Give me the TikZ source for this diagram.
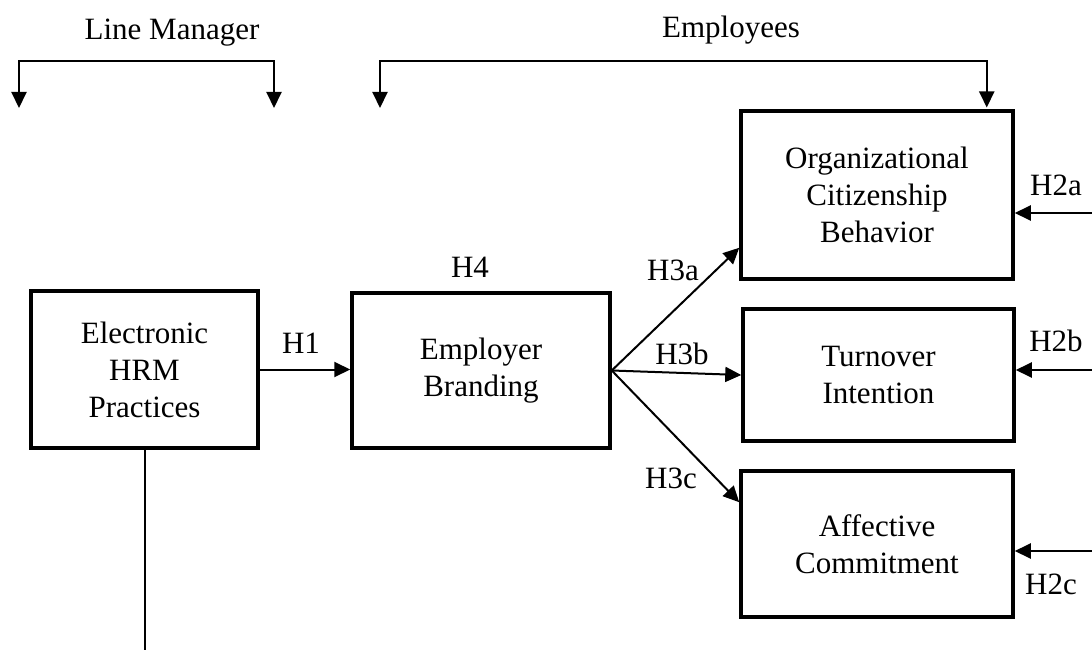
\documentclass[tikz,border=0pt]{standalone}
\usepackage{fontspec}
\setmainfont{Liberation Serif}
\usetikzlibrary{arrows.meta,calc}

\begin{document}
\begin{tikzpicture}[x=1pt,y=-1pt,
  every node/.style={font=\fontsize{31}{37}\selectfont, inner sep=0pt},
  varbox/.style={draw, line width=3.5pt, align=center},
  link/.style={line width=2pt, -{Triangle[length=16pt,width=15pt]}},
  twolink/.style={line width=2pt, {Triangle[length=16pt,width=15pt]}-{Triangle[length=16pt,width=15pt]}},
  hlabel/.style={}]
\useasboundingbox (0,0) rectangle (1092,650);

% constructs
\node[varbox, minimum width=227pt, minimum height=157pt] (ehrm) at (144.5,369.5) {Electronic\\HRM\\Practices};
\node[varbox, minimum width=258pt, minimum height=155pt] (eb) at (481,370.5) {Employer\\Branding};
\node[varbox, minimum width=272pt, minimum height=168pt] (ocb) at (877,195) {Organizational\\Citizenship\\Behavior};
\node[varbox, minimum width=271pt, minimum height=132pt] (ti) at (878.5,375) {Turnover\\Intention};
\node[varbox, minimum width=272pt, minimum height=146pt] (ac) at (877,544) {Affective\\Commitment};

% respondent groups
\node (lm) at (172,33) {Line Manager};
\node (emp) at (731,30) {Employees};
\coordinate (lmL) at (19,108);
\coordinate (lmR) at (274,108);
\coordinate (empL) at (380,108);
\draw[twolink] (lmL) |- (146,61) -| (lmR);
\draw[twolink] (empL) |- (680,61) -| ([xshift=-28pt,yshift=1.75pt]ocb.north east);

% paths
\draw[link] (ehrm.east) -- (ehrm.east -| eb.west);
\draw[link] (eb.east) -- ([yshift=33pt]ocb.south west);
\draw[link] (eb.east) -- (ti.west);
\draw[link] (eb.east) -- ([yshift=-33pt]ac.north west);

\coordinate (r2a) at (1092,213);
\coordinate (r2b) at (1092,370);
\coordinate (r2c) at (1092,551);
\draw[link] (r2a) -- (r2a -| ocb.east);
\draw[link] (r2b) -- (r2b -| ti.east);
\draw[link] (r2c) -- (r2c -| ac.east);

\coordinate (down) at (144.5,650);
\draw[line width=2pt] (ehrm.south) -- (down);

% hypothesis labels
\node[hlabel] (h4) at (470,267) {H4};
\node[hlabel] (h1) at (301,343) {H1};
\node[hlabel] (h3a) at (673,270) {H3a};
\node[hlabel] (h3b) at (682,354) {H3b};
\node[hlabel] (h3c) at (671,478) {H3c};
\node[hlabel] (h2a) at (1056,185) {H2a};
\node[hlabel] (h2b) at (1056,341) {H2b};
\node[hlabel] (h2c) at (1051,584) {H2c};
\end{tikzpicture}
\end{document}
